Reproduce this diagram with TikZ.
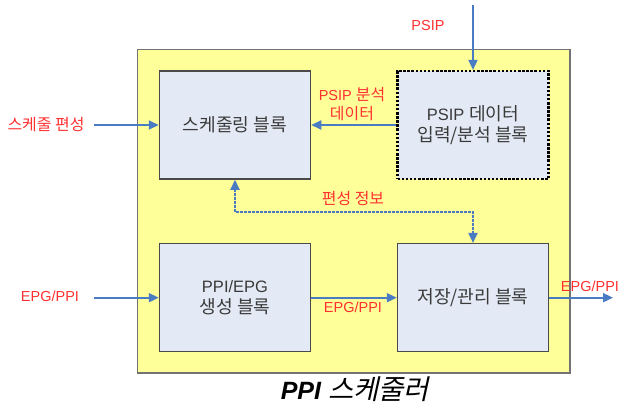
\documentclass[tikz,border=0pt]{standalone}
\usepackage{fontspec}
\setmainfont{Liberation Sans}
\newfontfamily\kr[Scale=1.1]{Noto Sans CJK KR}
\newfontfamily\krslant[FakeSlant=0.22,Scale=1.1]{Noto Sans CJK KR}
\usetikzlibrary{arrows.meta}
\definecolor{bgyellow}{HTML}{FFFF99}
\definecolor{boxfill}{HTML}{E4EAF5}
\definecolor{boxline}{HTML}{4A4A4A}
\definecolor{arrowblue}{HTML}{4A7CC4}
\definecolor{lblred}{HTML}{FF3030}
\definecolor{txtgray}{HTML}{3A3A3A}
\tikzset{
  blockbox/.style={draw=boxline, line width=1.5pt, fill=boxfill, inner sep=0pt,
    minimum width=151pt, minimum height=108pt, align=center, text=txtgray,
    font=\fontsize{16.5}{21}\selectfont},
  psipbox/.style={blockbox, draw=black, line width=2.2pt, dash pattern=on 2.5pt off 1.6pt},
  flow/.style={draw=arrowblue, line width=1.8pt, -{Triangle[length=10pt,width=9pt]}},
  dualflow/.style={draw=arrowblue, line width=1.8pt, dash pattern=on 2.5pt off 1.5pt,
    {Triangle[length=10pt,width=9pt]}-{Triangle[length=10pt,width=9pt]}},
  lbl/.style={text=lblred, inner sep=0pt, align=center, font=\fontsize{14.5}{19}\selectfont},
}
\begin{document}
\begin{tikzpicture}[x=1pt,y=-1pt]
\useasboundingbox (0,0) rectangle (621,407);
% outer yellow frame
\node[draw=gray!90!black, line width=1.6pt, fill=bgyellow, minimum width=432.5pt,
  minimum height=323.5pt, inner sep=0pt] (frame) at (353.75,211.25) {};
% blocks
\node[blockbox] (sched) at (235,125) {\kr 스케줄링 블록};
\node[psipbox] (psip) at (473,125) {PSIP {\kr 데이터}\\{\kr 입력/분석 블록}};
\node[blockbox] (gen) at (235,297.7) {PPI/EPG\\{\kr 생성 블록}};
\node[blockbox] (store) at (473,297.7) {\kr 저장/관리 블록};
% free ends
\coordinate (psipTop) at (473,5);
\coordinate (inSched) at (94,125);
\coordinate (inGen) at (94,297.7);
\coordinate (outR) at (613,297.7);
\coordinate (dashy) at (0,212);
% connectors
\draw[flow] (psipTop) -- (psip.north);
\draw[flow] (inSched) -- (sched.west);
\draw[flow] (inGen) -- (gen.west);
\draw[flow] (psip.west) -- (sched.east);
\draw[flow] (gen.east) -- (store.west);
\draw[flow] (store.east) -- (outR);
\draw[dualflow] (sched.south) -- (sched.south |- dashy) -| (store.north);
% labels
\node[lbl] (lpsip) at (428,26) {PSIP};
\node[lbl] (lsched) at (46,124.5) {\kr 스케줄 편성};
\node[lbl] (lepgin) at (50,296.5) {EPG/PPI};
\node[lbl] (lana) at (352,104.5) {PSIP {\kr 분석}\\{\kr 데이터}};
\node[lbl] (linfo) at (353,199) {\kr 편성 정보};
\node[lbl] (lmid) at (353,307.5) {EPG/PPI};
\node[lbl] (lout) at (590,286) {EPG/PPI};
% title
\node[inner sep=0pt, anchor=base, font=\fontsize{25}{28}\selectfont] (title) at (355,399.5)
  {\bfseries\itshape PPI \krslant\mdseries 스케줄러};
\end{tikzpicture}
\end{document}
